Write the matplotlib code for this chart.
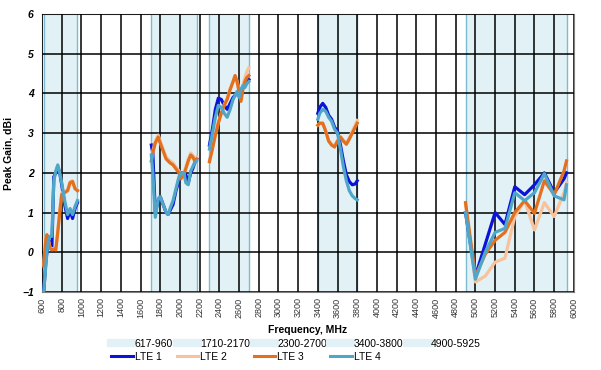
import numpy as np
import matplotlib
matplotlib.use("Agg")
import matplotlib.pyplot as plt
from matplotlib.lines import Line2D

plt.rcParams['font.family'] = ['Liberation Sans', 'DejaVu Sans']

# frequency bands (MHz)
bands = [(617, 960), (1710, 2170), (2300, 2700), (3400, 3800), (4900, 5925)]
band_labels = ["617-960", "1710-2170", "2300-2700", "3400-3800", "4900-5925"]

# sample frequencies for each band
f1 = [617, 640, 650, 665, 680, 700, 720, 740, 760, 780, 800, 830, 860, 885, 910, 935, 960]
f2 = [1710, 1725, 1750, 1780, 1800, 1830, 1860, 1880, 1900, 1930, 1960, 1990, 2010, 2040, 2060, 2085, 2110, 2130, 2150, 2170]
f3 = [2300, 2330, 2360, 2390, 2420, 2450, 2480, 2510, 2540, 2560, 2580, 2600, 2620, 2640, 2660, 2680, 2700]
f4 = [3400, 3420, 3450, 3480, 3510, 3540, 3570, 3600, 3630, 3660, 3690, 3720, 3750, 3780, 3800]
f5 = [4900, 5000, 5100, 5200, 5300, 5400, 5500, 5600, 5700, 5800, 5900, 5925]

# peak gain, dBi
lte1 = [
    [-1.0, -0.2, 0.0, 0.3, 0.25, 0.1, 1.9, 2.0, 2.15, 2.0, 1.7, 1.2, 0.85, 1.05, 0.85, 1.1, 1.25],
    [2.7, 2.5, 1.0, 1.3, 1.4, 1.2, 1.0, 0.95, 1.05, 1.2, 1.55, 1.8, 2.0, 2.0, 1.95, 1.75, 2.0, 2.1, 2.25, 2.35],
    [2.7, 3.1, 3.6, 3.88, 3.85, 3.7, 3.6, 3.75, 3.9, 3.95, 4.0, 4.05, 4.1, 4.15, 4.25, 4.3, 4.35],
    [3.5, 3.65, 3.75, 3.65, 3.45, 3.35, 3.15, 3.05, 2.7, 2.3, 1.95, 1.78, 1.7, 1.72, 1.8],
    [1.0, -0.6, 0.2, 1.0, 0.7, 1.65, 1.45, 1.7, 2.0, 1.5, 1.85, 2.0],
]
lte2 = [
    [-0.3, 0.38, 0.45, 0.32, 0.12, 0.08, 0.1, 0.08, 0.55, 1.05, 1.5, 1.52, 1.58, 1.78, 1.8, 1.62, 1.57],
    [2.3, 2.55, 2.8, 2.95, 2.8, 2.6, 2.4, 2.35, 2.3, 2.25, 2.15, 2.05, 1.9, 2.0, 2.15, 2.35, 2.5, 2.45, 2.35, 2.4],
    [2.3, 2.62, 2.98, 3.28, 3.5, 3.72, 3.88, 4.1, 4.3, 4.45, 4.32, 4.1, 3.9, 4.2, 4.4, 4.55, 4.65],
    [3.2, 3.25, 3.25, 3.05, 2.82, 2.72, 2.68, 2.82, 2.92, 2.82, 2.75, 2.88, 3.05, 3.2, 3.32],
    [1.2, -0.75, -0.6, -0.25, -0.15, 0.9, 1.3, 0.56, 1.25, 0.9, 1.5, 1.75],
]
lte3 = [
    [-0.35, 0.35, 0.44, 0.3, 0.1, 0.06, 0.08, 0.06, 0.5, 1.0, 1.45, 1.5, 1.55, 1.75, 1.78, 1.6, 1.55],
    [2.3, 2.5, 2.75, 2.9, 2.75, 2.55, 2.35, 2.3, 2.25, 2.2, 2.1, 2.0, 1.85, 1.95, 2.1, 2.3, 2.45, 2.4, 2.3, 2.35],
    [2.28, 2.6, 2.95, 3.25, 3.5, 3.7, 3.85, 4.1, 4.3, 4.45, 4.3, 4.05, 3.8, 4.1, 4.3, 4.4, 4.45],
    [3.2, 3.25, 3.25, 3.05, 2.8, 2.7, 2.65, 2.8, 2.9, 2.8, 2.72, 2.85, 3.0, 3.15, 3.25],
    [1.25, -0.6, -0.05, 0.3, 0.5, 1.0, 1.3, 0.98, 1.8, 1.45, 2.05, 2.3],
]
lte4 = [
    [-1.0, -0.3, 0.0, 0.3, 0.4, 0.4, 1.8, 2.05, 2.2, 2.0, 1.75, 1.3, 0.95, 1.1, 0.95, 1.15, 1.3],
    [2.45, 2.0, 0.88, 1.35, 1.4, 1.2, 1.0, 0.95, 1.1, 1.3, 1.6, 1.9, 2.0, 2.0, 1.75, 1.7, 2.05, 2.15, 2.25, 2.3],
    [2.6, 3.0, 3.4, 3.7, 3.65, 3.5, 3.4, 3.6, 3.85, 3.95, 4.05, 3.9, 4.1, 4.2, 4.15, 4.25, 4.3],
    [3.35, 3.5, 3.6, 3.55, 3.4, 3.3, 3.1, 3.0, 2.6, 2.15, 1.8, 1.55, 1.42, 1.35, 1.32],
    [1.0, -0.68, 0.0, 0.5, 0.6, 1.5, 1.3, 1.5, 1.98, 1.42, 1.32, 1.7],
]

freqs = [f1, f2, f3, f4, f5]
series = [("LTE 1", lte1, "#0a14d8"), ("LTE 2", lte2, "#f7c29c"),
          ("LTE 3", lte3, "#e2701f"), ("LTE 4", lte4, "#4fa6c9")]

band_fill = "#e2f1f6"
band_edge = "#7dbcd0"

fig = plt.figure(figsize=(6.01, 3.70), dpi=100)
ax = fig.add_axes([0.0699, 0.211, 0.885, 0.751])

for lo, hi in bands:
    ax.axvspan(lo, hi, color=band_fill, zorder=0, lw=0)
    ax.axvline(lo, color=band_edge, lw=1.0, zorder=2)
    ax.axvline(hi, color=band_edge, lw=1.0, zorder=2)

for name, data, col in series:
    for f, g in zip(freqs, data):
        ax.plot(f, g, color=col, lw=2.3, zorder=3, solid_joinstyle="round")

ax.set_xlim(600, 6000)
ax.set_ylim(-1, 6)
ax.set_xticks(np.arange(600, 6001, 200))
ax.set_yticks(np.arange(-1, 7, 1))
ax.grid(True, color="black", lw=1.1, zorder=1)
ax.set_axisbelow(False)
for sp in ax.spines.values():
    sp.set_color("#808080")
    sp.set_linewidth(0.8)
ax.tick_params(axis="x", labelrotation=90, labelsize=6.5, length=0, pad=4, labelcolor="#333333")
ax.tick_params(axis="y", labelsize=7.5, length=0, pad=6)
for t in ax.get_yticklabels():
    t.set_fontstyle("italic")
    t.set_fontweight("bold")
ax.set_xlabel("Frequency, MHz", fontsize=7.5, fontweight="bold", labelpad=5)
ax.set_ylabel("Peak Gain, dBi", fontsize=7.5, fontweight="bold", labelpad=6)

# legend: bands on first row, LTE lines on second row
band_handles = [Line2D([], [], color=band_fill, lw=6) for _ in bands]
line_handles = [Line2D([], [], color=c, lw=2.2) for _, _, c in series]
handles, labels = [], []
for i in range(5):
    handles.append(band_handles[i])
    labels.append(band_labels[i])
    if i < 4:
        handles.append(line_handles[i])
        labels.append(series[i][0])
fig.legend(handles, labels, ncol=5, loc="upper left", bbox_to_anchor=(0.185, 0.085),
           frameon=False, fontsize=7.5, handlelength=2.1, handletextpad=0.15,
           columnspacing=0.35, labelspacing=0.3, borderpad=0, borderaxespad=0)

fig.savefig("out.png", dpi=100)
